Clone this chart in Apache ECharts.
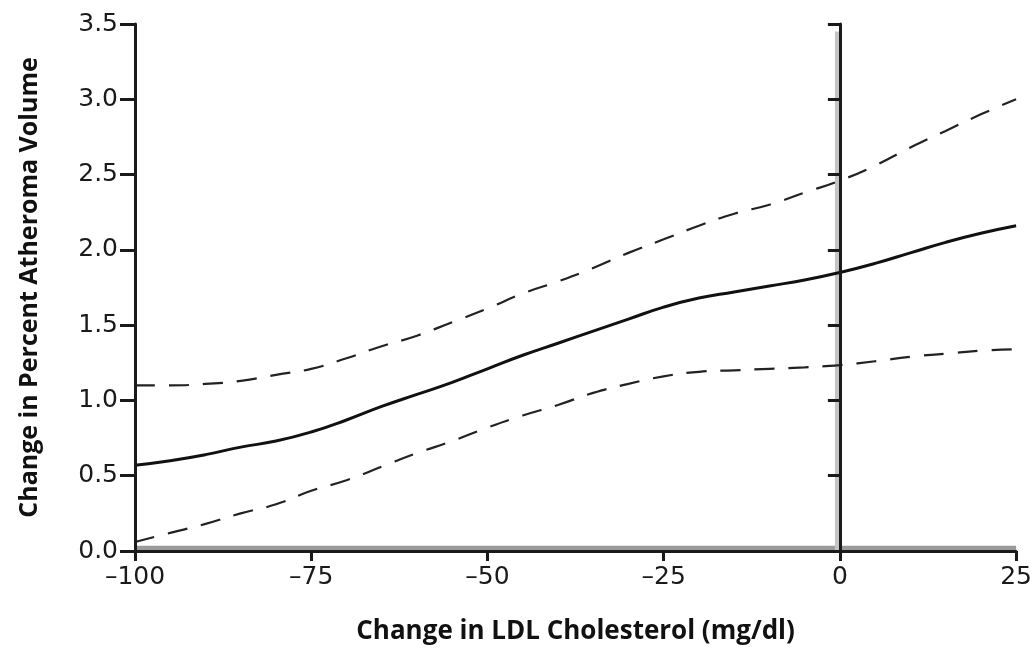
<!DOCTYPE html>
<html>
<head>
<meta charset="utf-8">
<script src="https://cdn.jsdelivr.net/npm/echarts@6/dist/echarts.min.js"></script>
<style>
  html, body { margin: 0; padding: 0; background: #fff; }
  #chart { width: 1035px; height: 650px; }
</style>
</head>
<body>
<div id="chart"></div>
<script>
// Change in LDL cholesterol (mg/dl), sampled every 5 units
const ldlChange = [-100, -95, -90, -85, -80, -75, -70, -65, -60, -55, -50, -45, -40,
                   -35, -30, -25, -20, -15, -10, -5, 0, 5, 10, 15, 20, 25];
// Estimated change in percent atheroma volume
const estimate = [0.57, 0.60, 0.64, 0.69, 0.73, 0.79, 0.87, 0.96, 1.04, 1.12, 1.21, 1.30, 1.38,
                  1.46, 1.54, 1.62, 1.68, 1.72, 1.76, 1.80, 1.85, 1.91, 1.98, 2.05, 2.11, 2.16];
// Upper confidence bound
const upperBound = [1.10, 1.10, 1.11, 1.13, 1.17, 1.21, 1.28, 1.36, 1.43, 1.52, 1.61, 1.71, 1.79,
                    1.88, 1.98, 2.07, 2.16, 2.24, 2.30, 2.38, 2.46, 2.56, 2.68, 2.79, 2.90, 3.00];
// Lower confidence bound
const lowerBound = [0.06, 0.12, 0.18, 0.25, 0.31, 0.40, 0.47, 0.56, 0.65, 0.73, 0.82, 0.90, 0.97,
                    1.05, 1.11, 1.16, 1.19, 1.20, 1.21, 1.22, 1.235, 1.26, 1.29, 1.31, 1.33, 1.34];

const xTicks = [-100, -75, -50, -25, 0, 25];
const yTicks = [0.0, 0.5, 1.0, 1.5, 2.0, 2.5, 3.0, 3.5];

const xTitle = 'Change in LDL Cholesterol (mg/dl)';
const yTitle = 'Change in Percent Atheroma Volume';

const pairs = ys => ldlChange.map((x, i) => [x, ys[i]]);

const TITLE_FONT = '"Open Sans", "DejaVu Sans", sans-serif';
const TICK_FONT = '"DejaVu Sans", sans-serif';
const INK = '#1a1a1a';

const chart = echarts.init(document.getElementById('chart'), null, { renderer: 'canvas' });

chart.setOption({
  animation: false,
  backgroundColor: '#ffffff',
  grid: { left: 135, right: 17, top: 24, bottom: 96, containLabel: false },
  xAxis: {
    type: 'value',
    z: 4,
    min: xTicks[0],
    max: xTicks[xTicks.length - 1],
    interval: 25,
    name: xTitle,
    nameLocation: 'middle',
    nameGap: 68,
    nameTextStyle: { fontFamily: TITLE_FONT, fontWeight: 'bold', fontSize: 26, color: '#111' },
    axisLine: { onZero: false, lineStyle: { color: INK, width: 3 } },
    axisTick: { length: 10, lineStyle: { color: INK, width: 3 } },
    axisLabel: {
      margin: 14, fontFamily: TICK_FONT, fontSize: 25, color: INK,
      formatter: v => (v < 0 ? '\u2013' + Math.abs(v) : String(v))
    },
    splitLine: { show: false }
  },
  yAxis: [
    {
      type: 'value',
      z: 4,
      min: yTicks[0],
      max: yTicks[yTicks.length - 1],
      interval: 0.5,
      position: 'left',
      name: yTitle,
      nameLocation: 'middle',
      nameGap: 93,
      nameTextStyle: { fontFamily: TITLE_FONT, fontWeight: 'bold', fontSize: 25, color: '#111' },
      axisLine: { show: true, onZero: false, lineStyle: { color: INK, width: 3 } },
      axisTick: { show: true, length: 15, lineStyle: { color: INK, width: 3 } },
      axisLabel: {
        margin: 17, fontFamily: TICK_FONT, fontSize: 25, color: INK,
        formatter: v => v.toFixed(1)
      },
      splitLine: { show: false }
    },
    {
      // reference axis drawn at zero change in LDL
      type: 'value',
      z: 4,
      min: yTicks[0],
      max: yTicks[yTicks.length - 1],
      interval: 0.5,
      position: 'left',
      axisLine: { show: true, onZero: true, lineStyle: { color: INK, width: 3 } },
      axisTick: { show: true, length: 12, lineStyle: { color: INK, width: 3 } },
      axisLabel: { show: false },
      splitLine: { show: false }
    }
  ],
  series: [
    {
      name: 'Estimate',
      type: 'line',
      data: pairs(estimate),
      smooth: true,
      symbol: 'none',
      lineStyle: { color: '#111', width: 3, type: 'solid' },
      markArea: {
        silent: true,
        itemStyle: { color: '#9a9a9a' },
        data: [
          [{ xAxis: -100, yAxis: 0 }, { xAxis: 25, yAxis: 0.035 }],
          [{ xAxis: -0.7, yAxis: 0 }, { xAxis: 0, yAxis: 3.45, itemStyle: { color: '#c4c4c4' } }]
        ]
      },
      markLine: {
        silent: true,
        symbol: 'none',
        label: { show: false },
        lineStyle: { color: INK, width: 3, type: 'solid' },
        data: [[{ coord: [0, 0] }, { coord: [0, 3.535] }]]
      }
    },
    {
      name: 'Upper',
      type: 'line',
      data: pairs(upperBound),
      smooth: true,
      symbol: 'none',
      lineStyle: { color: '#222', width: 2.2, type: [20, 14] }
    },
    {
      name: 'Lower',
      type: 'line',
      data: pairs(lowerBound),
      smooth: true,
      symbol: 'none',
      lineStyle: { color: '#222', width: 2.2, type: [20, 14] }
    }
  ]
});
</script>
</body>
</html>
